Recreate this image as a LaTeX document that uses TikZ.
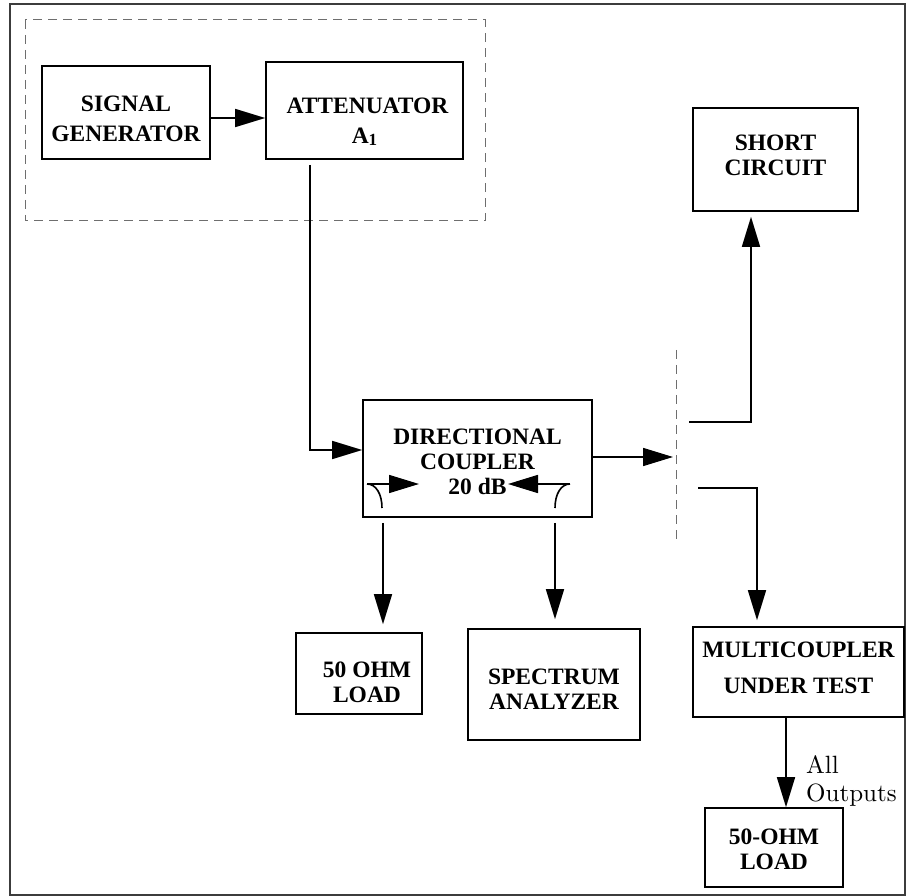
\documentclass[tikz,border=0pt]{standalone}
\usepackage{fontspec}
\usepackage{tikz}
\usetikzlibrary{arrows.meta}
\newfontfamily\boxfont{Liberation Serif}
\newfontfamily\lblfont{lmroman10-regular}[Extension=.otf]
\definecolor{framegray}{RGB}{60,60,60}
\definecolor{dashgray}{RGB}{110,110,110}
% box text, moved up or down without changing the box
\newcommand{\boxtext}[2]{\raisebox{#1}[\height][\depth]{\begin{tabular}{@{}c@{}}#2\end{tabular}}}

\begin{document}
\begin{tikzpicture}[
    x=1pt, y=-1pt,
    block/.style={rectangle, draw, line width=1.6pt, align=center, inner sep=2pt,
        font=\boxfont\bfseries\fontsize{23.5}{25}\selectfont},
    arrow/.style={-{Triangle[length=30pt,width=18pt]}, line width=1.6pt},
    wire/.style={line width=1.6pt},
    cut/.style={dashgray, line width=1pt, dash pattern=on 9pt off 6pt}
]
    \useasboundingbox (0,0) rectangle (906,896);
    \draw[framegray, line width=1.3pt] (10,4) rectangle (905,895);

    % source group
    \draw[cut] (25,20) rectangle (485,221);
    \node[block, minimum width=168pt, minimum height=93pt] (sig) at (126,112.5)
        {\boxtext{-9pt}{SIGNAL\\[5pt]GENERATOR}};
    \node[block, minimum width=197pt, minimum height=97pt] (att) at (364.5,110.5)
        {\boxtext{-13.5pt}{\hspace*{6pt}ATTENUATOR\\[5pt]A\raisebox{-2pt}{\fontsize{17}{17}\selectfont 1}}};
    \draw[arrow] ([yshift=-5.5pt]sig.east) -- ([yshift=-5.5pt]sig.east -| att.west);

    % coupler
    \node[block, minimum width=229pt, minimum height=117pt] (coupler) at (477.5,458.5)
        {\boxtext{-5.5pt}{DIRECTIONAL\\COUPLER\\20 dB}};
    \draw[arrow] ([xshift=-54.5pt,yshift=-5pt]att.south) |- ([yshift=8.5pt]coupler.west);
    \draw[wire] (367,484) .. controls (376,484) and (382,494) .. (382,508);
    \draw[arrow] (367,484) -- (419,484);
    \draw[wire] (570,484) .. controls (561,484) and (555,494) .. (555,508);
    \draw[arrow] (570,484) -- (508,484);

    % loads after coupler
    \node[block, minimum width=126pt, minimum height=81pt] (load1) at (359,673.5)
        {\boxtext{-11.5pt}{\hspace*{16pt}50 OHM\\\hspace*{16pt}LOAD}};
    \node[block, minimum width=172pt, minimum height=111pt] (spec) at (554,684.5)
        {\boxtext{-7pt}{SPECTRUM\\ANALYZER}};
    \draw[arrow, shorten >=8pt] ([xshift=-94.5pt,yshift=-5pt]coupler.south) -- ([xshift=-94.5pt]coupler.south |- load1.north);
    \draw[arrow, shorten >=9pt] ([xshift=77.5pt,yshift=-5pt]coupler.south) -- ([xshift=77.5pt]coupler.south |- spec.north);

    % switch point
    \coordinate (cuttop) at (676,350);
    \coordinate (cutbot) at (676,542);
    \coordinate (cutin) at (673,457);
    \coordinate (outa) at (689,422);
    \coordinate (outb) at (698,488);
    \draw[cut] (cuttop) -- (cutbot);
    \draw[arrow] (coupler.east |- cutin) -- (cutin);

    \node[block, minimum width=165pt, minimum height=103pt] (short) at (775.5,159.5)
        {\boxtext{1.5pt}{SHORT\\CIRCUIT}};
    \node[block, minimum width=211pt, minimum height=90pt] (muc) at (798.5,672)
        {\boxtext{2pt}{MULTICOUPLER\\[11pt]UNDER TEST}};
    \node[block, minimum width=138pt, minimum height=79pt] (load2) at (774,847.5)
        {\boxtext{-4pt}{50-OHM\\LOAD}};
    \draw[arrow, shorten >=5pt] (outa) -| ([xshift=-24.5pt]short.south);
    \draw[arrow, shorten >=6pt] (outb) -| ([xshift=-41.5pt]muc.north);
    \draw[arrow] ([xshift=-12.5pt]muc.south) -- ([xshift=-12.5pt]muc.south |- load2.north);
    \node[anchor=west, align=left, inner sep=0pt, font=\lblfont\fontsize{25}{28}\selectfont] (outlbl) at (806,781) {All\\Outputs};
\end{tikzpicture}
\end{document}
